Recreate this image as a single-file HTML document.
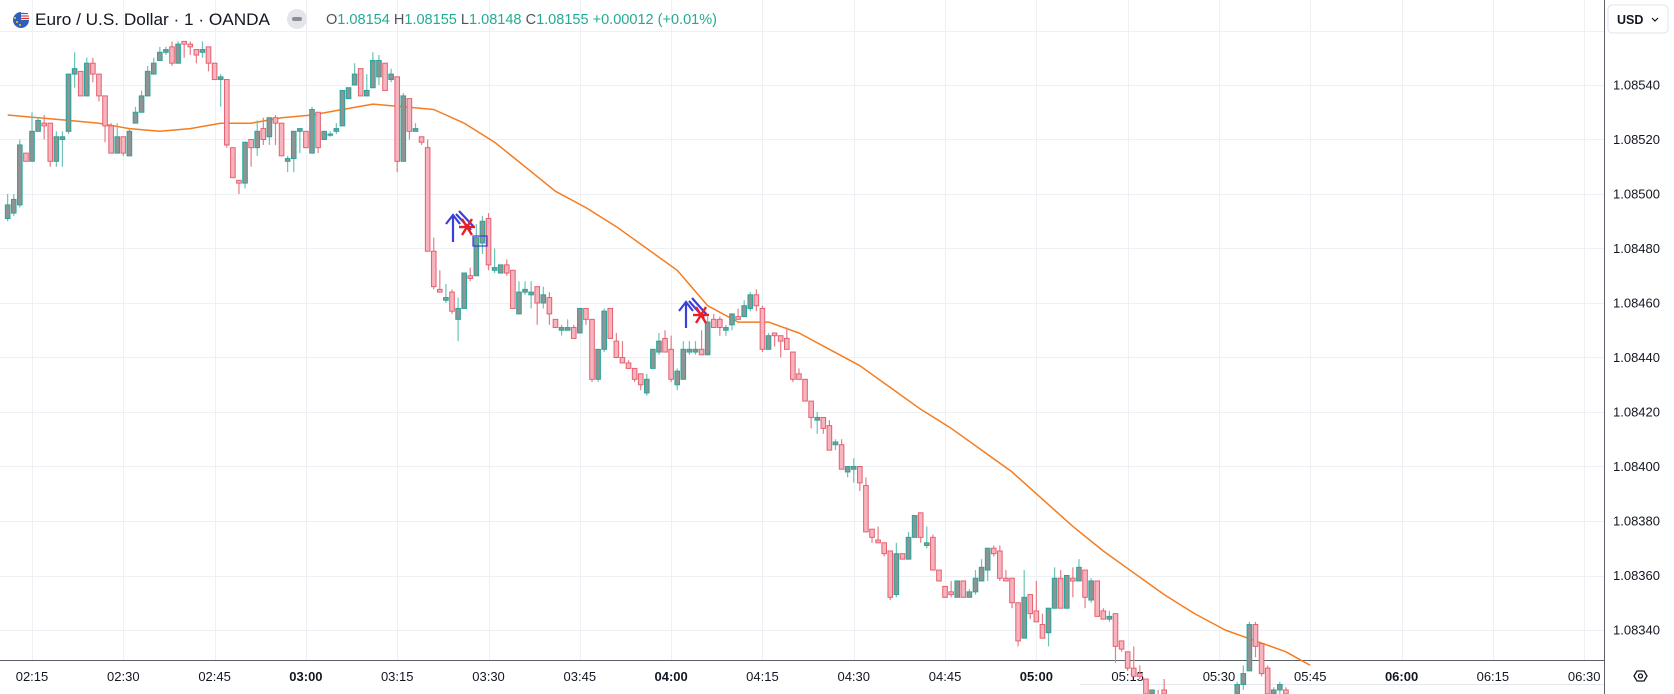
<!DOCTYPE html>
<html><head><meta charset="utf-8"><title>EURUSD 1m</title>
<style>
html,body{margin:0;padding:0;background:#fff;}
body{width:1674px;height:694px;overflow:hidden;font-family:"Liberation Sans",sans-serif;}
svg{display:block;}
</style></head>
<body>
<svg id="chart" width="1674" height="694" viewBox="0 0 1674 694" xmlns="http://www.w3.org/2000/svg">
  <defs><clipPath id="plotclip"><rect x="0" y="0" width="1604" height="694"/></clipPath></defs>
  <rect x="0" y="0" width="1674" height="694" fill="#ffffff"/>
  <g id="grid"></g>
  <g id="xaxis"></g>
  <g id="ma"></g>
  <g id="candles" clip-path="url(#plotclip)"></g>
  <g id="marks">
    <g>
      <line x1="453" y1="242" x2="453" y2="216" stroke="#3b3fd8" stroke-width="2.2"/>
      <polyline points="446,224 453,215 460,224" fill="none" stroke="#3b3fd8" stroke-width="2.2"/>
      <line x1="456" y1="214" x2="471" y2="230" stroke="#3b3fd8" stroke-width="2.2"/>
      <line x1="459" y1="211" x2="474" y2="227" stroke="#3b3fd8" stroke-width="2.2"/>
    </g>
    <g stroke="#ee1c25" stroke-width="2.4">
      <line x1="459" y1="227" x2="475" y2="227"/><line x1="462" y1="219" x2="472" y2="235"/><line x1="472" y1="219" x2="462" y2="235"/>
    </g>
    <rect x="473" y="236" width="14" height="10" fill="none" stroke="#3b3fd8" stroke-width="1.2"/>
    <g>
      <line x1="686" y1="328" x2="686" y2="303" stroke="#3b3fd8" stroke-width="2.2"/>
      <polyline points="679,311 686,302 693,311" fill="none" stroke="#3b3fd8" stroke-width="2.2"/>
      <line x1="689" y1="301" x2="704" y2="318" stroke="#3b3fd8" stroke-width="2.2"/>
      <line x1="692" y1="298" x2="707" y2="315" stroke="#3b3fd8" stroke-width="2.2"/>
    </g>
    <g stroke="#ee1c25" stroke-width="2.4">
      <line x1="693" y1="315" x2="709" y2="315"/><line x1="696" y1="307" x2="706" y2="323"/><line x1="706" y1="307" x2="696" y2="323"/>
    </g>
  </g>
  <g id="yaxis"></g>
  <g>
    <g>
      <circle cx="21" cy="20" r="8" fill="#2f5fb8"/>
      <path d="M21 12 A8 8 0 0 1 29 20 L21 20 Z" fill="#e8e8f0"/>
      <path d="M21 13.5 h7 M21 16 h7.8 M21 18.5 h8" stroke="#d33" stroke-width="1"/>
      <circle cx="17" cy="22" r="1" fill="#f5d020"/><circle cx="20" cy="25" r="1" fill="#f5d020"/><circle cx="15" cy="18" r="1" fill="#f5d020"/>
    </g>
    <text x="35" y="25" font-size="16.5" fill="#131722" textLength="235" lengthAdjust="spacingAndGlyphs">Euro / U.S. Dollar · 1 · OANDA</text>
    <g>
      <circle cx="297" cy="19" r="10" fill="#e3e5ea"/>
      <rect x="292" y="17" width="10" height="4" rx="2" fill="#8a8e99"/>
    </g>
    <text x="326" y="24" font-size="14.5" textLength="391" lengthAdjust="spacingAndGlyphs"><tspan fill="#50535e">O</tspan><tspan fill="#22ab94">1.08154 </tspan><tspan fill="#50535e">H</tspan><tspan fill="#22ab94">1.08155 </tspan><tspan fill="#50535e">L</tspan><tspan fill="#22ab94">1.08148 </tspan><tspan fill="#50535e">C</tspan><tspan fill="#22ab94">1.08155 +0.00012 (+0.01%)</tspan></text>
  </g>
  <g>
    <rect x="1608" y="5" width="60" height="28" rx="4" fill="#fff" stroke="#e0e3eb"/>
    <text x="1617" y="24" font-size="12.5" font-weight="bold" fill="#131722">USD</text>
    <path d="M1652 18 l3 3 l3 -3" fill="none" stroke="#131722" stroke-width="1.2"/>
  </g>
  <g>
    <path d="M1634 676 l3 -5 h7 l3 5 l-3 5 h-7 z" fill="none" stroke="#131722" stroke-width="1.3"/>
    <circle cx="1640.5" cy="676" r="2" fill="none" stroke="#131722" stroke-width="1.3"/>
  </g>
</svg>
<script>
// ---- data ----
const startMinute = 131; // 02:11
const openV = [1.08491,1.08493,1.08496,1.08515,1.08512,1.08523,1.08526,1.08526,1.08512,1.08520,1.08523,1.08544,1.08545,1.08536,1.08548,1.08544,1.08536,1.08525,1.08515,1.08521,1.08514,1.08526,1.08530,1.08536,1.08544,1.08549,1.08552,1.08554,1.08548,1.08556,1.08555,1.08553,1.08552,1.08554,1.08548,1.08542,1.08542,1.08517,1.08505,1.08504,1.08520,1.08517,1.08524,1.08521,1.08528,1.08526,1.08512,1.08513,1.08523,1.08523,1.08515,1.08530,1.08520,1.08522,1.08523,1.08525,1.08535,1.08540,1.08546,1.08536,1.08539,1.08543,1.08548,1.08542,1.08543,1.08512,1.08535,1.08523,1.08521,1.08517,1.08479,1.08465,1.08461,1.08464,1.08454,1.08458,1.08470,1.08470,1.08482,1.08491,1.08472,1.08471,1.08474,1.08472,1.08456,1.08464,1.08463,1.08466,1.08460,1.08462,1.08454,1.08450,1.08450,1.08451,1.08449,1.08458,1.08454,1.08432,1.08443,1.08458,1.08446,1.08440,1.08438,1.08436,1.08434,1.08427,1.08436,1.08442,1.08447,1.08443,1.08430,1.08432,1.08442,1.08442,1.08443,1.08441,1.08454,1.08454,1.08450,1.08452,1.08455,1.08455,1.08458,1.08463,1.08458,1.08443,1.08449,1.08448,1.08447,1.08442,1.08434,1.08432,1.08424,1.08417,1.08418,1.08415,1.08408,1.08408,1.08398,1.08399,1.08400,1.08393,1.08377,1.08373,1.08372,1.08369,1.08353,1.08368,1.08366,1.08374,1.08383,1.08371,1.08374,1.08362,1.08356,1.08354,1.08352,1.08358,1.08352,1.08354,1.08358,1.08362,1.08370,1.08369,1.08359,1.08359,1.08350,1.08337,1.08353,1.08347,1.08342,1.08339,1.08348,1.08359,1.08348,1.08359,1.08358,1.08362,1.08351,1.08358,1.08347,1.08344,1.08346,1.08336,1.08332,1.08326,1.08324,1.08322,1.08314,1.08316,1.08318,1.08312,1.08306,1.08309,1.08303,1.08307,1.08302,1.08305,1.08300,1.08304,1.08301,1.08306,1.08310,1.08320,1.08325,1.08342,1.08335,1.08326,1.08312,1.08318,1.08318,1.08312,1.08307,1.08309,1.08304];
const highV = [1.08500,1.08500,1.08520,1.08515,1.08530,1.08528,1.08529,1.08526,1.08523,1.08523,1.08544,1.08552,1.08545,1.08550,1.08550,1.08544,1.08536,1.08526,1.08526,1.08521,1.08524,1.08532,1.08538,1.08547,1.08550,1.08554,1.08554,1.08556,1.08556,1.08556,1.08556,1.08553,1.08556,1.08554,1.08548,1.08544,1.08542,1.08517,1.08505,1.08519,1.08520,1.08527,1.08528,1.08528,1.08529,1.08526,1.08514,1.08523,1.08524,1.08523,1.08532,1.08530,1.08523,1.08523,1.08526,1.08538,1.08539,1.08548,1.08546,1.08544,1.08552,1.08551,1.08548,1.08546,1.08543,1.08537,1.08535,1.08526,1.08521,1.08520,1.08484,1.08472,1.08467,1.08465,1.08462,1.08471,1.08473,1.08489,1.08492,1.08493,1.08480,1.08474,1.08476,1.08472,1.08468,1.08468,1.08468,1.08466,1.08466,1.08464,1.08454,1.08452,1.08454,1.08452,1.08458,1.08458,1.08454,1.08443,1.08458,1.08458,1.08449,1.08446,1.08439,1.08436,1.08434,1.08434,1.08443,1.08449,1.08450,1.08448,1.08436,1.08446,1.08446,1.08446,1.08450,1.08455,1.08456,1.08455,1.08452,1.08456,1.08458,1.08461,1.08464,1.08465,1.08459,1.08449,1.08449,1.08448,1.08451,1.08442,1.08436,1.08432,1.08424,1.08420,1.08418,1.08417,1.08410,1.08410,1.08400,1.08403,1.08400,1.08396,1.08377,1.08378,1.08372,1.08369,1.08372,1.08368,1.08376,1.08382,1.08383,1.08378,1.08375,1.08362,1.08356,1.08358,1.08358,1.08358,1.08355,1.08362,1.08366,1.08370,1.08371,1.08371,1.08362,1.08359,1.08350,1.08362,1.08353,1.08358,1.08346,1.08348,1.08363,1.08362,1.08360,1.08363,1.08366,1.08362,1.08359,1.08358,1.08348,1.08347,1.08346,1.08336,1.08332,1.08334,1.08327,1.08322,1.08318,1.08318,1.08322,1.08314,1.08312,1.08311,1.08310,1.08309,1.08308,1.08307,1.08306,1.08308,1.08309,1.08313,1.08321,1.08327,1.08343,1.08343,1.08335,1.08327,1.08319,1.08321,1.08319,1.08314,1.08313,1.08311,1.08310];
const lowV = [1.08490,1.08492,1.08495,1.08512,1.08512,1.08523,1.08520,1.08510,1.08510,1.08510,1.08522,1.08539,1.08536,1.08536,1.08541,1.08534,1.08519,1.08515,1.08515,1.08514,1.08514,1.08526,1.08530,1.08536,1.08544,1.08549,1.08551,1.08547,1.08548,1.08550,1.08551,1.08548,1.08550,1.08545,1.08542,1.08532,1.08517,1.08506,1.08500,1.08502,1.08510,1.08514,1.08518,1.08518,1.08518,1.08514,1.08508,1.08508,1.08515,1.08517,1.08515,1.08515,1.08520,1.08521,1.08522,1.08525,1.08535,1.08540,1.08536,1.08536,1.08539,1.08540,1.08538,1.08541,1.08508,1.08512,1.08520,1.08523,1.08518,1.08479,1.08465,1.08464,1.08460,1.08456,1.08446,1.08458,1.08468,1.08470,1.08478,1.08472,1.08471,1.08471,1.08470,1.08458,1.08456,1.08463,1.08458,1.08452,1.08458,1.08452,1.08451,1.08448,1.08450,1.08447,1.08449,1.08452,1.08431,1.08431,1.08442,1.08447,1.08440,1.08438,1.08436,1.08431,1.08428,1.08426,1.08436,1.08441,1.08442,1.08431,1.08428,1.08432,1.08441,1.08441,1.08441,1.08441,1.08451,1.08448,1.08448,1.08450,1.08454,1.08455,1.08457,1.08457,1.08442,1.08443,1.08444,1.08440,1.08443,1.08431,1.08432,1.08424,1.08414,1.08412,1.08412,1.08406,1.08406,1.08399,1.08396,1.08394,1.08391,1.08376,1.08372,1.08372,1.08367,1.08351,1.08352,1.08366,1.08366,1.08374,1.08372,1.08370,1.08362,1.08358,1.08352,1.08352,1.08352,1.08352,1.08352,1.08353,1.08358,1.08358,1.08367,1.08358,1.08358,1.08348,1.08334,1.08337,1.08344,1.08343,1.08337,1.08334,1.08348,1.08348,1.08348,1.08352,1.08358,1.08348,1.08350,1.08345,1.08344,1.08343,1.08328,1.08332,1.08325,1.08323,1.08322,1.08312,1.08313,1.08308,1.08310,1.08304,1.08302,1.08300,1.08301,1.08298,1.08299,1.08297,1.08298,1.08299,1.08300,1.08304,1.08308,1.08318,1.08325,1.08330,1.08323,1.08308,1.08310,1.08316,1.08309,1.08305,1.08303,1.08301,1.08300];
const closeV = [1.08496,1.08498,1.08518,1.08512,1.08523,1.08527,1.08525,1.08512,1.08521,1.08521,1.08544,1.08546,1.08536,1.08548,1.08544,1.08536,1.08525,1.08515,1.08521,1.08515,1.08523,1.08530,1.08536,1.08545,1.08548,1.08552,1.08553,1.08548,1.08555,1.08555,1.08554,1.08551,1.08553,1.08548,1.08542,1.08543,1.08518,1.08506,1.08504,1.08519,1.08517,1.08523,1.08520,1.08528,1.08526,1.08514,1.08513,1.08523,1.08524,1.08517,1.08531,1.08517,1.08523,1.08522,1.08524,1.08538,1.08539,1.08544,1.08536,1.08538,1.08549,1.08549,1.08538,1.08544,1.08512,1.08536,1.08523,1.08524,1.08519,1.08479,1.08466,1.08464,1.08462,1.08457,1.08458,1.08471,1.08469,1.08484,1.08490,1.08474,1.08473,1.08474,1.08471,1.08458,1.08464,1.08465,1.08464,1.08460,1.08463,1.08456,1.08451,1.08451,1.08451,1.08447,1.08458,1.08454,1.08432,1.08443,1.08457,1.08447,1.08440,1.08438,1.08436,1.08432,1.08430,1.08432,1.08443,1.08446,1.08442,1.08432,1.08435,1.08443,1.08443,1.08443,1.08441,1.08453,1.08451,1.08451,1.08451,1.08456,1.08454,1.08459,1.08463,1.08459,1.08443,1.08448,1.08448,1.08446,1.08443,1.08432,1.08432,1.08424,1.08418,1.08418,1.08414,1.08406,1.08409,1.08399,1.08400,1.08400,1.08394,1.08376,1.08374,1.08372,1.08368,1.08352,1.08368,1.08366,1.08374,1.08382,1.08374,1.08372,1.08362,1.08358,1.08352,1.08353,1.08358,1.08352,1.08354,1.08359,1.08363,1.08370,1.08368,1.08359,1.08358,1.08350,1.08336,1.08352,1.08346,1.08343,1.08337,1.08348,1.08359,1.08348,1.08360,1.08358,1.08363,1.08352,1.08358,1.08345,1.08344,1.08345,1.08334,1.08333,1.08326,1.08323,1.08323,1.08314,1.08318,1.08310,1.08312,1.08306,1.08309,1.08303,1.08307,1.08302,1.08305,1.08300,1.08304,1.08301,1.08306,1.08310,1.08320,1.08324,1.08342,1.08334,1.08324,1.08312,1.08318,1.08320,1.08312,1.08307,1.08309,1.08304,1.08306];
const maIndex = [0,5,10,15,20,25,30,35,40,45,50,55,60,65,70,75,80,85,90,95,100,105,110,115,120,125,130,135,140,145,150,155,160,165,170,175,180,185,190,195,200,205,210,214];
const maValues = [1.08529,1.08528,1.08527,1.08526,1.08524,1.08523,1.08524,1.08526,1.08526,1.08528,1.08529,1.08531,1.08533,1.08532,1.08531,1.08526,1.08519,1.08510,1.08501,1.08495,1.08488,1.08480,1.08472,1.08459,1.08453,1.08453,1.08449,1.08443,1.08437,1.08429,1.08421,1.08414,1.08406,1.08398,1.08388,1.08378,1.08369,1.08361,1.08353,1.08346,1.08340,1.08336,1.08332,1.08327];
const priceTicks = [1.08560,1.08540,1.08520,1.08500,1.08480,1.08460,1.08440,1.08420,1.08400,1.08380,1.08360,1.08340];
const timeTickMinutes = [135,150,165,180,195,210,225,240,255,270,285,300,315,330,345,360,375,390];
const timeTickLabels = ["02:15","02:30","02:45","03:00","03:15","03:30","03:45","04:00","04:15","04:30","04:45","05:00","05:15","05:30","05:45","06:00","06:15","06:30"];

// ---- scales ----
const NS = "http://www.w3.org/2000/svg";
const FRAME_BOTTOM = 694;
function xScale(minute){ return 32 + (minute - 135) * 6.087; }
function yScale(price){ return 85 + (1.08540 - price) / 0.00001 * 2.725; }
function clampY(y){ return Math.min(y, FRAME_BOTTOM); }
function mk(tag, attrs, parent){ const e = document.createElementNS(NS, tag); for (const k in attrs) e.setAttribute(k, attrs[k]); parent.appendChild(e); return e; }

const grid = document.getElementById('grid');
const xaxis = document.getElementById('xaxis');
const yaxis = document.getElementById('yaxis');
const candlesG = document.getElementById('candles');
const maG = document.getElementById('ma');

priceTicks.forEach(function(p){
  const y = Math.round(yScale(p)) + 0.5;
  const l = mk('line', {x1:0, x2:1604, y1:y, y2:y, stroke:'#edf0f5', 'stroke-width':1}, grid);
  
  
});
timeTickMinutes.forEach(function(m){
  const x = Math.round(xScale(m)) + 0.5;
  const l = mk('line', {x1:x, x2:x, y1:0, y2:660, stroke:'#edf0f5', 'stroke-width':1}, grid);
  
  
});

const axLine = mk('line', {x1:0, x2:1604, y1:660.5, y2:660.5, stroke:'#5d606b', 'stroke-width':1}, xaxis);


const subLine = mk('line', {x1:1080, x2:1604, y1:684.5, y2:684.5, stroke:'#e6e8ee', 'stroke-width':1}, xaxis);


timeTickMinutes.forEach(function(m, i){
  const lab = timeTickLabels[i];
  const bold = /:00$/.test(lab);
  const t = mk('text', {x:xScale(m), y:681, 'text-anchor':'middle', 'font-size':13, fill:'#131722', 'font-weight': bold ? 'bold' : 'normal'}, xaxis);
  t.textContent = lab;
  
  
});

const ya = mk('rect', {x:1604, y:0, width:70, height:694, fill:'#ffffff'}, yaxis);


const yl = mk('line', {x1:1604.5, x2:1604.5, y1:0, y2:694, stroke:'#5d606b', 'stroke-width':1}, yaxis);


priceTicks.forEach(function(p){
  const y = yScale(p);
  if (y < 60) return;
  const t = mk('text', {x:1613, y:y + 4.5, 'font-size':13, fill:'#131722'}, yaxis);
  t.textContent = p.toFixed(5);
  
  
});

let d = '';
maIndex.forEach(function(idx, i){
  const x = xScale(startMinute + idx), y = yScale(maValues[i]);
  d += (i ? 'L' : 'M') + x.toFixed(1) + ' ' + y.toFixed(1);
});
const maPath = mk('path', {d:d, fill:'none', stroke:'#f57c1f', 'stroke-width':1.5, 'stroke-linejoin':'round'}, maG);



openV.forEach(function(o, i){
  const c = closeV[i], h = highV[i], l = lowV[i];
  const x = xScale(startMinute + i);
  const up = c >= o;
  const yh = yScale(h);
  if (yh >= FRAME_BOTTOM) return; // entirely below the visible frame
  const g = mk('g', {}, candlesG);
  
  
  const border = up ? '#26a69a' : '#e5606f';
  const wick = mk('line', {x1:x, x2:x, y1:yh, y2:clampY(yScale(l)), stroke: up ? '#6cc3b6' : '#ea7b87', 'stroke-width':1.2}, g);
  
  
  const yt = yScale(Math.max(o, c));
  if (yt < FRAME_BOTTOM) {
    const yb = clampY(yScale(Math.min(o, c)));
    const body = mk('rect', {x:x - 2.3, y:yt, width:4.6, height:Math.max(1.2, yb - yt), fill: up ? '#8d9493' : '#f7b4be', stroke:border, 'stroke-width':1}, g);
    
    
  }
});
</script>
</body></html>
